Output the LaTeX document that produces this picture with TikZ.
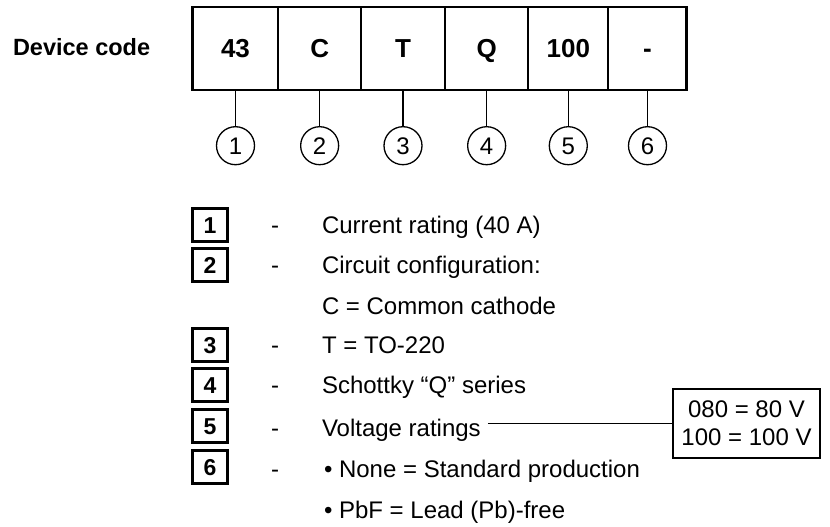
\documentclass[tikz,border=0pt]{standalone}
\usepackage{fontspec}
\setmainfont{Liberation Sans}
\begin{document}
\begin{tikzpicture}[x=1pt,y=-1pt,
  every node/.style={inner sep=0pt, outer sep=0pt},
  cell/.style={draw, line width=1.7pt, minimum height=83pt, text height=17.2pt, text depth=0pt, font=\fontsize{26}{30}\selectfont\bfseries},
  numc/.style={draw, circle, line width=1.3pt, minimum size=38pt, text height=17.2pt, text depth=0pt, font=\fontsize{24}{28}\selectfont},
  lbox/.style={draw, line width=2.5pt, minimum width=35pt, minimum height=33pt, text height=16pt, text depth=0pt, font=\fontsize{23}{27}\selectfont\bfseries},
  ltext/.style={anchor=base west, font=\fontsize{24}{28}\selectfont},
  dashtxt/.style={anchor=base, font=\fontsize{24}{28}\selectfont},
  conn/.style={line width=1.3pt}
]
\useasboundingbox (0,0) rectangle (830,527);

\node[anchor=base west, font=\fontsize{23.5}{28}\selectfont\bfseries] (dc) at (13,56) {Device code};

% code cells
\node[cell, minimum width=85.6pt] (c1) at (235.5,48.5) {43};
\node[cell, minimum width=82.7pt] (c2) at (319.65,48.5) {C};
\node[cell, minimum width=84pt]   (c3) at (403,48.5) {T};
\node[cell, minimum width=83.3pt] (c4) at (486.65,48.5) {Q};
\node[cell, minimum width=80pt]   (c5) at (568.3,48.5) {100};
\node[cell, minimum width=78.4pt] (c6) at (647.5,48.5) {-};
\draw[line width=2.7pt] (c1.north west) rectangle (c6.south east);

% numbered circles
\foreach \i/\x in {1/235.5,2/319.65,3/403,4/486.65,5/568.3,6/647.5}{
  \node[numc] (n\i) at (\x,145.7) {\i};
  \draw[conn] (c\i.south) -- (n\i.north);
}

% legend boxes
\node[lbox] (b1) at (210,225) {1};
\node[lbox] (b2) at (210,265) {2};
\node[lbox] (b3) at (210,345) {3};
\node[lbox] (b4) at (210,385) {4};
\node[lbox] (b5) at (210,426) {5};
\node[lbox] (b6) at (210,467) {6};

% dashes
\node[dashtxt] (d1) at (275,233.6) {-};
\node[dashtxt] (d2) at (275,273.6) {-};
\node[dashtxt] (d3) at (275,353.6) {-};
\node[dashtxt] (d4) at (275,393.6) {-};
\node[dashtxt] (d5) at (275,436.6) {-};
\node[dashtxt] (d6) at (275,477.6) {-};

% legend texts
\node[ltext] (t1) at (322,233.6) {Current rating (40 A)};
\node[ltext] (t2) at (322,273.6) {Circuit configuration:};
\node[ltext] (t2b) at (322,314.6) {C = Common cathode};
\node[ltext] (t3) at (322,353.6) {T = TO-220};
\node[ltext] (t4) at (322,393.6) {Schottky “Q” series};
\node[ltext] (t5) at (322,436.6) {Voltage ratings};
\node[ltext] (t6) at (324,477.6) {• None = Standard production};
\node[ltext] (t6b) at (324,518.6) {• PbF = Lead (Pb)-free};

% voltage box
\node[draw, line width=1.3pt, minimum width=147pt, minimum height=69pt, align=center,
      font=\fontsize{24}{28}\selectfont] (vb) at (746.5,423.5) {080 = 80 V\\100 = 100 V};
\draw[conn] ([xshift=7pt]t5.east |- vb.west) -- (vb.west);
\end{tikzpicture}
\end{document}
